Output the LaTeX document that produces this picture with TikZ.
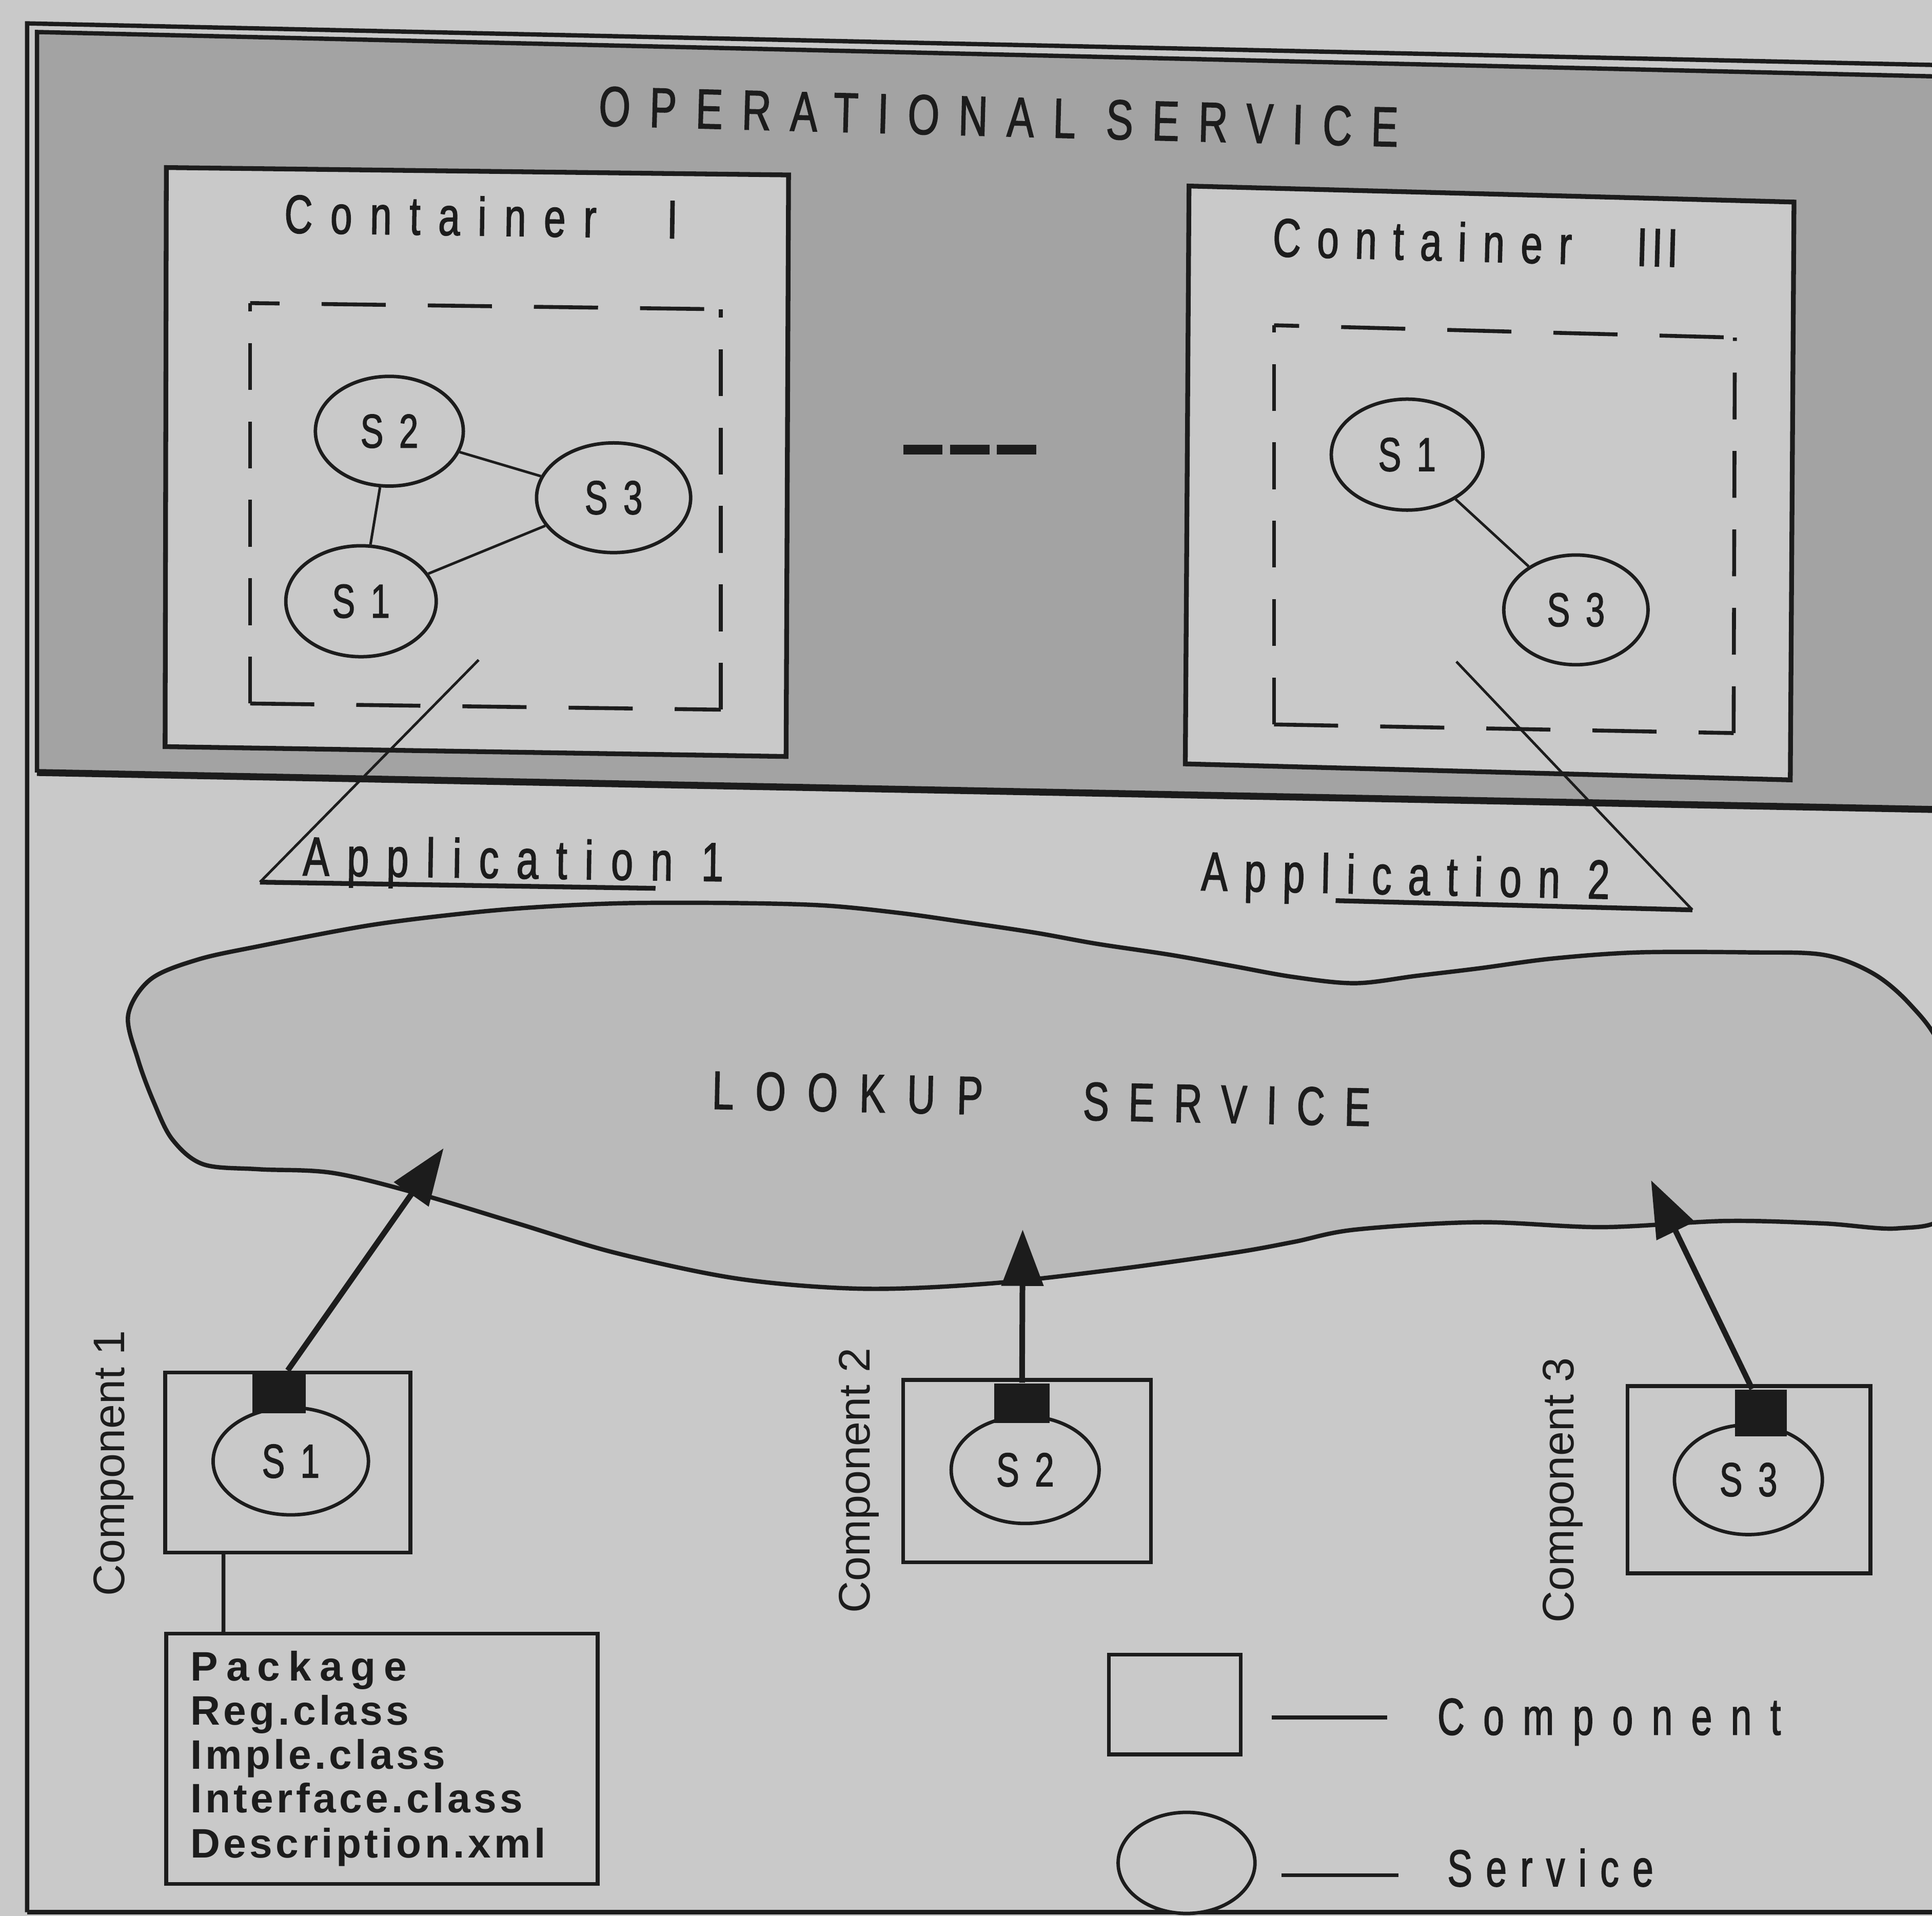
\documentclass[tikz,border=0pt]{standalone}
\usepackage{fontspec}
\setmainfont{Liberation Sans}
\newfontfamily\pixfont[FakeStretch=0.72,FakeBold=1.5]{Liberation Sans}
\usetikzlibrary{arrows.meta,shapes.geometric}
\definecolor{paper}{RGB}{201,201,201}
\definecolor{bandgray}{RGB}{163,163,163}
\definecolor{cloudgray}{RGB}{186,186,186}
\definecolor{ink}{RGB}{28,28,28}
% condensed, letter-spaced lettering: size (pt), letter spacing
\newcommand\spf[2]{\pixfont\fontsize{#1pt}{#1pt}\selectfont\addfontfeature{LetterSpace=#2}}
% bold package listing
\newcommand\pkgf[1]{\bfseries\fontsize{9.5pt}{9.5pt}\selectfont\addfontfeature{LetterSpace=#1}}
\tikzset{
  lbl/.style={anchor=base west, inner sep=0pt, text=ink},
  svc/.style={ellipse, draw=ink, line width=0.8pt, fill=paper, inner sep=0pt,
              text=ink, font=\spf{11}{0}},
  compbox/.style={rectangle, draw=ink, line width=0.9pt, fill=paper, inner sep=0pt},
  port/.style={rectangle, fill=ink, inner sep=0pt},
  thinline/.style={draw=ink, line width=0.6pt},
  hdash/.style={draw=ink, line width=0.9pt, dash pattern=on 14.8pt off 9.7pt},
  vdash/.style={draw=ink, line width=0.9pt, dash pattern=on 10.8pt off 7.3pt},
  regarrow/.style={draw=ink, line width=1.3pt, -{Triangle[length=13pt,width=9.5pt]}},
  complabel/.style={anchor=base west, inner sep=0pt, rotate=90, text=ink,
              font=\fontsize{10.2pt}{10.2pt}\selectfont},
}
\begin{document}
\begin{tikzpicture}[x=0.01cm,y=-0.01cm]
\useasboundingbox (0,0) rectangle (1568,1555);
\fill[paper] (0,0) rectangle (1568,1555);
\begin{scope}
\clip (0,0) rectangle (1568,1555);

% outer frame
\draw[ink, line width=1pt] (22,1552) -- (22,19) -- (1600,53.4);
\draw[ink, line width=1pt] (22,1552) -- (1600,1552);

% operational service band
\fill[bandgray] (30,26) -- (1600,62.7) -- (1600,657.6) -- (30,627) -- cycle;
\draw[ink, line width=1pt] (1600,62.7) -- (30,26) -- (30,627);
\draw[ink, line width=1.6pt] (30,627) -- (1600,657.6);
\node[lbl, rotate=-1.5, font=\spf{13}{34}] (optitle) at (485,102) {OPERATIONAL SERVICE};

% container I
\filldraw[fill=paper, draw=ink, line width=1.1pt]
  (135,136) -- (640,142) -- (638,614) -- (134,606) -- cycle;
\node[lbl, rotate=-0.8, font=\spf{12.5}{33}] (c1title) at (230,189) {Container\hspace{1.3em}I};
\coordinate (d1tl) at (203,246);
\coordinate (d1tr) at (585,251);
\coordinate (d1br) at (585,576);
\coordinate (d1bl) at (203,571);
\draw[hdash, dash phase=8pt] (d1tl) -- (d1tr);
\draw[hdash] (d1bl) -- (d1br);
\draw[vdash] (d1bl) -- (d1tl);
\draw[vdash] (d1br) -- (d1tr);
\node[svc, minimum width=1.2cm, minimum height=0.89cm] (a1s2) at (316,350) {S\kern0.33em2};
\node[svc, minimum width=1.25cm, minimum height=0.89cm] (a1s3) at (498,404) {S\kern0.33em3};
\node[svc, minimum width=1.22cm, minimum height=0.9cm] (a1s1) at (293,488) {S\kern0.33em1};
\draw[thinline] (a1s2) -- (a1s3);
\draw[thinline] (a1s2) -- (a1s1);
\draw[thinline] (a1s1) -- (a1s3);

% container III
\filldraw[fill=paper, draw=ink, line width=1.1pt]
  (965,151) -- (1456,164) -- (1453,633) -- (962,620) -- cycle;
\node[lbl, rotate=-1.5, font=\spf{12.5}{30}] (c3title) at (1032,208)
  {Container\hspace{1.2em}{\addfontfeature{LetterSpace=8}III}};
\coordinate (d3tl) at (1034,264);
\coordinate (d3tr) at (1408,274);
\coordinate (d3br) at (1407,595);
\coordinate (d3bl) at (1034,588);
\draw[hdash, dash phase=9pt] (d3tl) -- (d3tr);
\draw[hdash] (d3bl) -- (d3br);
\draw[vdash] (d3bl) -- (d3tl);
\draw[vdash] (d3br) -- (d3tr);
\node[svc, minimum width=1.23cm, minimum height=0.9cm] (a2s1) at (1142,369) {S\kern0.33em1};
\node[svc, minimum width=1.17cm, minimum height=0.89cm] (a2s3) at (1279,495) {S\kern0.33em3};
\draw[thinline] (a2s1) -- (a2s3);

% ellipsis between the containers
\coordinate (sepL) at (733,365);
\coordinate (sepR) at (842,365);
\draw[ink, line width=2.3pt, dash pattern=on 9.1pt off 1.7pt] (sepL) -- (sepR);

% lookup service cloud
\filldraw[fill=cloudgray, draw=ink, line width=1pt]
  plot[smooth cycle, tension=0.55] coordinates {
  (104,824) (122,795) (160,779) (210,768) (300,751) (380,741) (440,736)
  (510,733) (600,733) (670,735) (730,741) (780,748) (840,757) (890,766)
  (950,775) (1000,784) (1050,793) (1100,798) (1150,792) (1200,786)
  (1260,778) (1330,773) (1420,773) (1480,775) (1520,790) (1550,815)
  (1575,850) (1595,920) (1580,985) (1540,997) (1480,993) (1400,991)
  (1300,996) (1200,992) (1100,998) (1050,1008) (1000,1017) (900,1031)
  (800,1042) (700,1046) (600,1038) (500,1017) (420,993) (340,969)
  (270,952) (210,949) (165,945) (140,925) (125,895) (112,860)};
\node[lbl, rotate=-1.2, font=\spf{12.5}{40}] (lk1) at (577,900) {LOOKUP};
\node[lbl, rotate=-1.2, font=\spf{12.5}{36}] (lk2) at (878,909) {SERVICE};

% applications
\coordinate (p1top) at (388.5,535.6);
\coordinate (p1corner) at (211,716);
\coordinate (p1end) at (532,721);
\draw[thinline] (p1top) -- (p1corner);
\draw[ink, line width=1.1pt] (p1corner) -- (p1end);
\node[lbl, rotate=-0.8, font=\spf{12.7}{32}] (app1) at (245,710.5) {Application 1};
\coordinate (p2top) at (1182,537);
\coordinate (p2corner) at (1373.5,738.5);
\coordinate (p2end) at (1084,731);
\draw[thinline] (p2top) -- (p2corner);
\draw[ink, line width=1.1pt] (p2corner) -- (p2end);
\node[lbl, rotate=-1.2, font=\spf{12.7}{30}] (app2) at (974,722.6) {Application 2};

% components
\node[compbox, minimum width=1.99cm, minimum height=1.46cm] (comp1) at (233.5,1187) {};
\node[svc, minimum width=1.26cm, minimum height=0.87cm] (b1s1) at (236,1186) {S\kern0.33em1};
\node[port, minimum width=0.43cm, minimum height=0.34cm] (port1) at (226.5,1130) {};
\node[complabel] (cl1) at (101,1296) {Component 1};

\node[compbox, minimum width=2.01cm, minimum height=1.48cm] (comp2) at (833.5,1194) {};
\node[svc, minimum width=1.2cm, minimum height=0.87cm] (b2s2) at (832,1193) {S\kern0.33em2};
\node[port, minimum width=0.45cm, minimum height=0.32cm] (port2) at (829.5,1139) {};
\node[complabel] (cl2) at (706,1310) {Component 2};

\node[compbox, minimum width=1.97cm, minimum height=1.52cm] (comp3) at (1419.5,1201) {};
\node[svc, minimum width=1.2cm, minimum height=0.89cm] (b3s3) at (1419,1201) {S\kern0.33em3};
\node[port, minimum width=0.42cm, minimum height=0.38cm] (port3) at (1429,1147) {};
\node[complabel] (cl3) at (1277,1318) {Component 3};

% registration arrows into the lookup service
\coordinate (tip1) at (360,932);
\coordinate (tip2) at (830,998);
\coordinate (tip3) at (1340,958);
\draw[regarrow] ([xshift=0.07cm]port1.north) -- (tip1);
\draw[regarrow] (port2.north) -- (tip2);
\draw[regarrow] ([xshift=-0.07cm]port3.north) -- (tip3);

% package of component 1
\node[compbox, minimum width=3.5cm, minimum height=2.03cm] (pkg) at (310,1427.5) {};
\draw[ink, line width=0.9pt] ([xshift=0.49cm]comp1.south west) -- ([xshift=0.48cm]pkg.north west);
\node[lbl, font=\pkgf{20}] (pk1) at (154,1364) {Package};
\node[lbl, font=\pkgf{8}] (pk2) at (154,1400) {Reg.class};
\node[lbl, font=\pkgf{8}] (pk3) at (154,1436) {Imple.class};
\node[lbl, font=\pkgf{8}] (pk4) at (154,1471) {Interface.class};
\node[lbl, font=\pkgf{8}] (pk5) at (154,1508) {Description.xml};

% legend
\node[compbox, minimum width=1.07cm, minimum height=0.81cm] (legbox) at (953.5,1383.5) {};
\coordinate (lg1a) at (1032,1394);
\coordinate (lg1b) at (1126,1394);
\draw[ink, line width=0.9pt] (lg1a) -- (lg1b);
\node[lbl, font=\spf{12}{36}] (legc) at (1166,1408) {Component};
\node[svc, minimum width=1.11cm, minimum height=0.82cm] (legsvc) at (963,1512) {};
\coordinate (lg2a) at (1040,1522);
\coordinate (lg2b) at (1135,1522);
\draw[ink, line width=0.9pt] (lg2a) -- (lg2b);
\node[lbl, font=\spf{12}{26}] (legs) at (1174,1531) {Service};
\end{scope}
\end{tikzpicture}
\end{document}
